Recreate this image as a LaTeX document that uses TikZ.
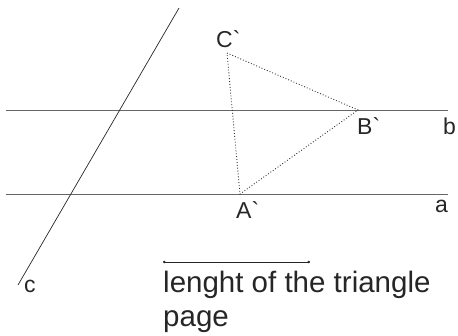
\documentclass[tikz,border=0pt]{standalone}
\usepackage{fontspec}
\newfontfamily\lab{Liberation Sans}
\usetikzlibrary{arrows.meta}
\begin{document}
\begin{tikzpicture}[x=1pt,y=-1pt,
  parline/.style={draw=black!60,line width=1pt},
  transline/.style={draw=black!85,line width=0.7pt},
  tri/.style={draw=black!80,dotted,line width=0.9pt},
  ptlabel/.style={anchor=base west,inner sep=0pt,font=\lab\fontsize{23}{27}\selectfont,text=black!85},
  bigtext/.style={anchor=base west,inner sep=0pt,font=\lab\fontsize{29.5}{34}\selectfont,text=black!85},
  scalebar/.style={draw=black!85,line width=0.9pt,{Circle[length=2.5pt]}-{Circle[length=2.5pt]}}]
\useasboundingbox (0,0) rectangle (458,335);
% parallel lines
\coordinate (bL) at (6,110);
\coordinate (bR) at (448,110);
\coordinate (aL) at (6,194);
\coordinate (aR) at (448,194);
\draw[parline] (bL) -- (bR);
\draw[parline] (aL) -- (aR);
% transversal c
\coordinate (cT) at (179,8);
\coordinate (cB) at (18,285);
\draw[transline] (cT) -- (cB);
% triangle
\coordinate (Cp) at (227,53);
\coordinate (Bp) at (358,110);
\coordinate (Ap) at (240,194);
\draw[tri] (Cp) -- (Bp) -- (Ap) -- cycle;
% labels
\node[ptlabel] (lC) at (216,47) {C`};
\node[ptlabel] (lB) at (357,134) {B`};
\node[ptlabel] (lA) at (236,218) {A`};
\node[ptlabel] (lb) at (443,134) {b};
\node[ptlabel] (la) at (435,212) {a};
\node[ptlabel] (lc) at (24,292) {c};
% length bar
\coordinate (sL) at (163,262);
\coordinate (sR) at (310,262);
\draw[scalebar] (sL) -- (sR);
\node[bigtext] (t1) at (163,292) {lenght of the triangle};
\node[bigtext] (t2) at (163,326) {page};
\end{tikzpicture}
\end{document}
